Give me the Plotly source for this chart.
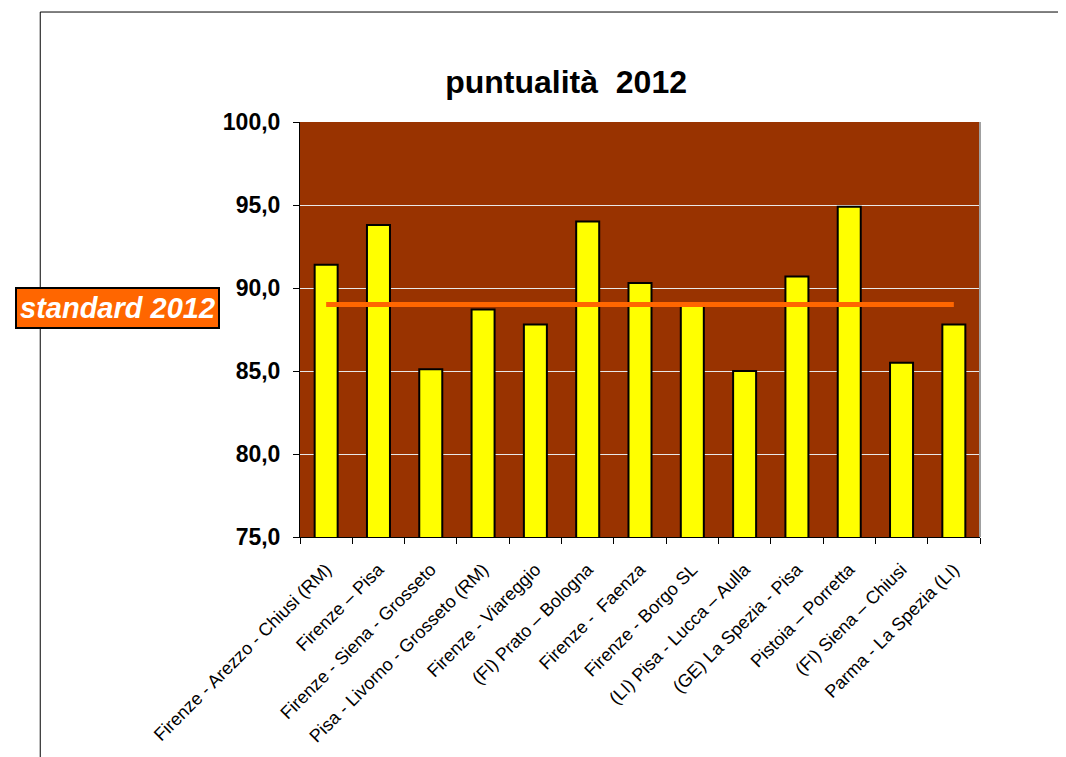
import plotly.graph_objects as go

linee = [
    "Firenze - Arezzo - Chiusi (RM)",
    "Firenze – Pisa",
    "Firenze - Siena - Grosseto",
    "Pisa - Livorno - Grosseto (RM)",
    "Firenze - Viareggio",
    "(FI) Prato – Bologna",
    "Firenze -  Faenza",
    "Firenze - Borgo SL",
    "(LI) Pisa - Lucca – Aulla",
    "(GE) La Spezia - Pisa",
    "Pistoia – Porretta",
    "(FI) Siena – Chiusi",
    "Parma - La Spezia (LI)",
]
puntualita = [91.4, 93.8, 85.1, 88.7, 87.8, 94.0, 90.3, 89.0, 85.0, 90.7, 94.9, 85.5, 87.8]
standard = [89.0] * len(linee)

fig = go.Figure()
fig.add_trace(go.Bar(
    x=linee, y=puntualita,
    marker=dict(color="#FFFF00", line=dict(color="black", width=2)),
))
fig.add_trace(go.Scatter(
    x=linee, y=standard, mode="lines",
    line=dict(color="#FF6600", width=5),
))

fig.update_layout(
    width=1066, height=757,
    margin=dict(l=292, r=94, t=114, b=228),
    paper_bgcolor="white", plot_bgcolor="#993300",
    showlegend=False, bargap=0.56,
    separators=",.",
    font=dict(family="Liberation Sans, Arial", color="black"),
    title=dict(text="<b>puntualità  2012</b>", x=0.5235, y=0.902, xanchor="center",
               yanchor="middle", font=dict(size=32)),
)
fig.update_xaxes(
    tickangle=-45, tickfont=dict(size=18), showline=True, linecolor="black",
    linewidth=1, ticks="outside", tickson="boundaries", ticklen=6,
    tickcolor="black", showgrid=False, ticklabelstandoff=14,
)
fig.update_yaxes(
    range=[75, 100], dtick=5, tickformat=".1f", tickfont=dict(size=23, weight="bold"),
    showline=True, linecolor="black", linewidth=1, ticks="outside", ticklen=6,
    tickcolor="black", gridcolor="#E8E8E8", gridwidth=1, zeroline=False,
    ticklabelstandoff=8,
)

# cornice del grafico e bordo destro dell'area
fig.add_shape(type="line", xref="paper", yref="paper", x0=-0.382, x1=1.2, y0=1.265, y1=1.265,
              line=dict(color="black", width=1))
fig.add_shape(type="line", xref="paper", yref="paper", x0=-0.382, x1=-0.382, y0=1.265, y1=-0.6,
              line=dict(color="black", width=1))
fig.add_shape(type="line", xref="paper", yref="paper", x0=1, x1=1, y0=0, y1=1,
              line=dict(color="#A0A0A0", width=2))

fig.add_annotation(
    text="<b><i>standard 2012</i></b>", xref="paper", yref="paper",
    x=-0.268, y=0.552, xanchor="center", yanchor="middle", showarrow=False,
    font=dict(size=29, color="white"),
    bgcolor="#FF6600", bordercolor="black", borderwidth=2, borderpad=3,
)

fig.write_html("out.html")
